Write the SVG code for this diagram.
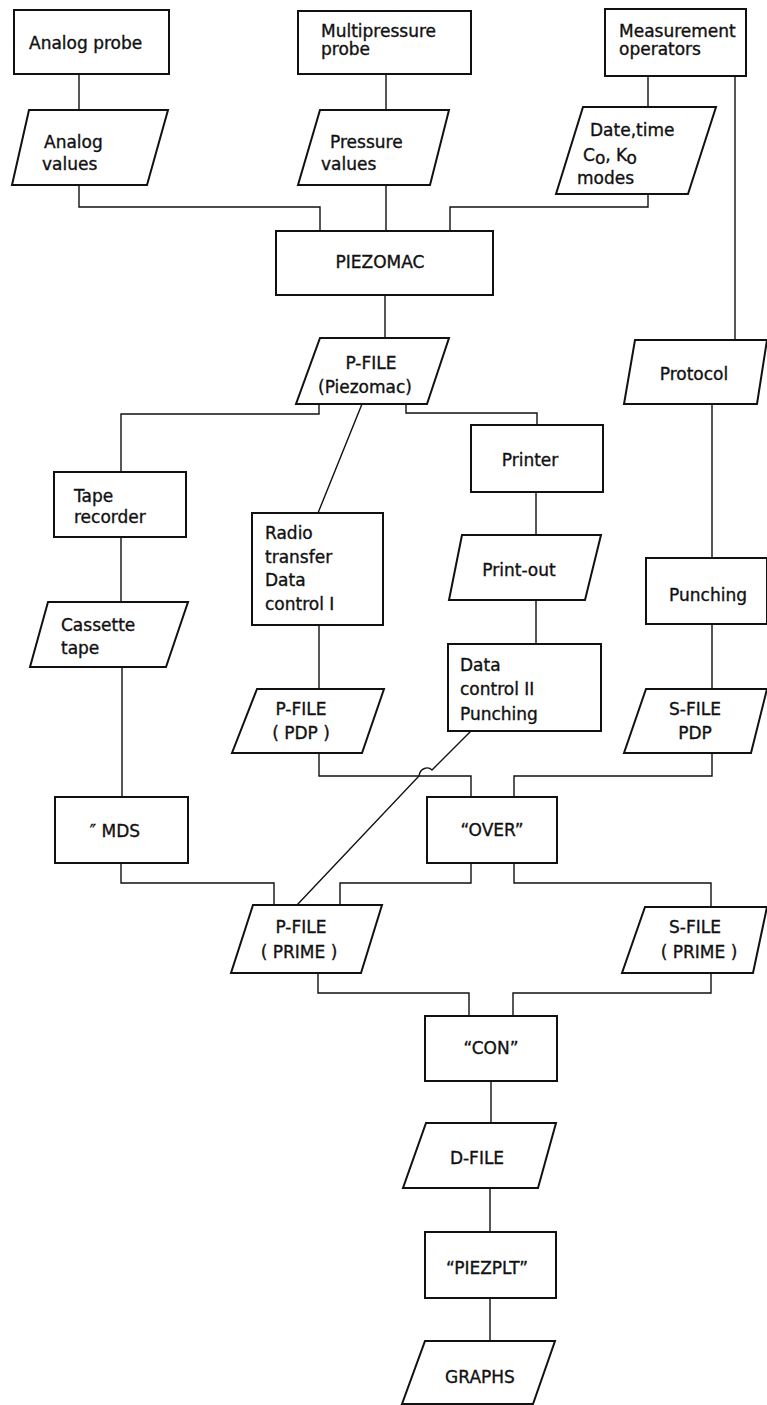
<svg xmlns="http://www.w3.org/2000/svg" width="767" height="1405" viewBox="0 0 767 1405">
<style>
.box{fill:#fff;stroke:#111;stroke-width:2}
.con{fill:none;stroke:#111;stroke-width:1.4}
text{font-family:"DejaVu Sans","Liberation Sans",sans-serif;font-size:17px;fill:#111;stroke:#111;stroke-width:0.35}
.c{text-anchor:middle}
</style>
<rect width="767" height="1405" fill="#fff"/>
<g id="connectors">
<path class="con" d="M79 74V110M386 74V110M648 76V107M735 76V340"/>
<path class="con" d="M79 185V207H320V231M386 185V231M648 194V207H450V231"/>
<path class="con" d="M385 295V338M319 404V414H121V472M362 404L318 513M406 404V413H537V425"/>
<path class="con" d="M121 537V602M536 492V535M536 600V644M319 625V689M712 404V558M712 624V689M122 667V797"/>
<path class="con" d="M319 753V776H471V797M712 753V776H514V797"/>
<path class="con" d="M471 731L432 770C428 766 420 768 419 776L297 905"/>
<path class="con" d="M121 863V883H274V905M471 863V883H340V905M514 863V883H711V907"/>
<path class="con" d="M318 973V993H469V1016M711 973V993H513V1016M491 1081V1123M490 1188V1232M490 1298V1341"/>
</g>
<g id="n-analog-probe"><rect class="box" x="14" y="10" width="155" height="64"/><text x="29" y="49">Analog probe</text></g>
<g id="n-multipressure-probe"><rect class="box" x="298" y="11" width="173" height="63"/><text x="321" y="37">Multipressure</text><text x="321" y="55">probe</text></g>
<g id="n-measurement-operators"><rect class="box" x="605" y="9" width="141" height="67"/><text x="619" y="37">Measurement</text><text x="619" y="55">operators</text></g>
<g id="n-analog-values"><polygon class="box" points="29,110 168,110 147,185 12,185"/><text x="44" y="148">Analog</text><text x="42" y="170">values</text></g>
<g id="n-pressure-values"><polygon class="box" points="320,110 449,110 430,185 298,185"/><text x="330" y="148">Pressure</text><text x="321" y="170">values</text></g>
<g id="n-date-time"><polygon class="box" points="583,107 716,107 688,194 556,194"/><text x="590" y="136">Date,time</text><text x="583" y="161">C<tspan baseline-shift="-3">o</tspan>, K<tspan baseline-shift="-3">o</tspan></text><text x="577" y="184">modes</text></g>
<g id="n-piezomac"><rect class="box" x="276" y="231" width="217" height="64"/><text class="c" x="380" y="268">PIEZOMAC</text></g>
<g id="n-pfile-piezomac"><polygon class="box" points="320,338 449,338 427,404 296,404"/><text class="c" x="371" y="369">P-FILE</text><text class="c" x="365" y="393">(Piezomac)</text></g>
<g id="n-protocol"><polygon class="box" points="635,340 767,340 757,404 624,404"/><text class="c" x="694" y="380">Protocol</text></g>
<g id="n-printer"><rect class="box" x="471" y="425" width="132" height="67"/><text class="c" x="530" y="466">Printer</text></g>
<g id="n-tape-recorder"><rect class="box" x="54" y="472" width="132" height="65"/><text x="74" y="502">Tape</text><text x="74" y="523">recorder</text></g>
<g id="n-radio-transfer"><rect class="box" x="252" y="513" width="131" height="112"/><text x="265" y="539">Radio</text><text x="265" y="563">transfer</text><text x="265" y="586">Data</text><text x="265" y="610">control I</text></g>
<g id="n-cassette-tape"><polygon class="box" points="48,602 188,602 166,667 30,667"/><text x="61" y="631">Cassette</text><text x="61" y="654">tape</text></g>
<g id="n-print-out"><polygon class="box" points="462,535 601,535 585,600 449,600"/><text class="c" x="519" y="576">Print-out</text></g>
<g id="n-data-control-2"><rect class="box" x="448" y="644" width="153" height="87"/><text x="460" y="671">Data</text><text x="460" y="695">control II</text><text x="460" y="720">Punching</text></g>
<g id="n-pfile-pdp"><polygon class="box" points="257,689 384,689 362,753 232,753"/><text class="c" x="301" y="715">P-FILE</text><text class="c" x="301" y="739">( PDP )</text></g>
<g id="n-punching"><rect class="box" x="646" y="558" width="121" height="66"/><text class="c" x="708" y="601">Punching</text></g>
<g id="n-sfile-pdp"><polygon class="box" points="646,689 767,689 751,753 624,753"/><text class="c" x="695" y="715">S-FILE</text><text class="c" x="695" y="739">PDP</text></g>
<g id="n-mds"><rect class="box" x="55" y="797" width="133" height="66"/><text class="c" x="115" y="837">″ MDS</text></g>
<g id="n-over"><rect class="box" x="427" y="797" width="130" height="66"/><text class="c" x="492" y="836">“OVER”</text></g>
<g id="n-pfile-prime"><polygon class="box" points="253,905 382,905 361,973 231,973"/><text class="c" x="301" y="933">P-FILE</text><text class="c" x="299" y="958">( PRIME )</text></g>
<g id="n-sfile-prime"><polygon class="box" points="645,907 767,907 753,973 622,973"/><text class="c" x="695" y="933">S-FILE</text><text class="c" x="699" y="958">( PRIME )</text></g>
<g id="n-con"><rect class="box" x="425" y="1016" width="132" height="65"/><text class="c" x="491" y="1054">“CON”</text></g>
<g id="n-dfile"><polygon class="box" points="426,1123 556,1123 538,1188 403,1188"/><text class="c" x="477" y="1164">D-FILE</text></g>
<g id="n-piezplt"><rect class="box" x="425" y="1232" width="131" height="66"/><text class="c" x="487" y="1274">“PIEZPLT”</text></g>
<g id="n-graphs"><polygon class="box" points="425,1341 555,1341 533,1404 402,1404"/><text class="c" x="480" y="1383">GRAPHS</text></g>
</svg>
